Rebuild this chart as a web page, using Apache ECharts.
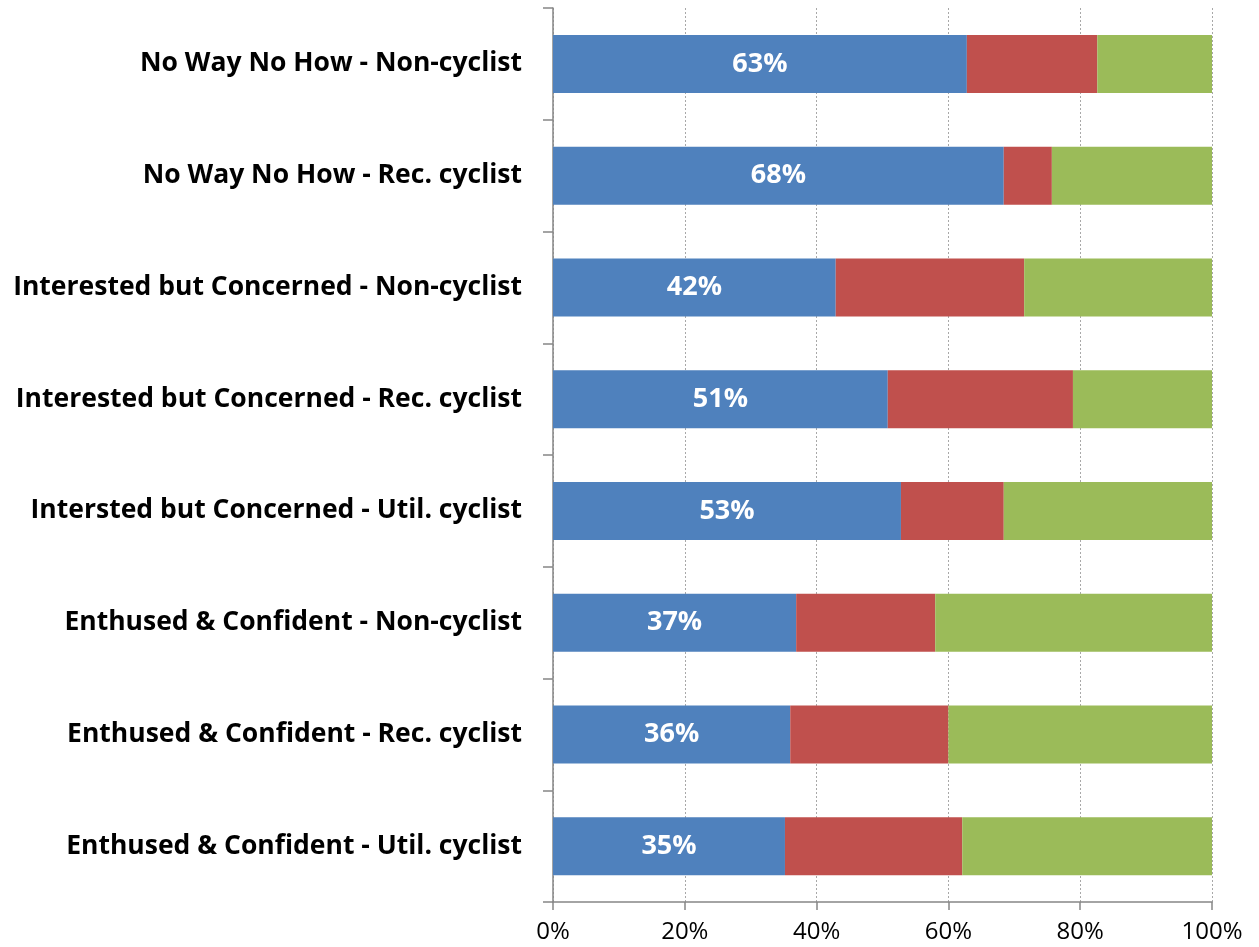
<!DOCTYPE html>
<html>
<head>
<meta charset="utf-8">
<script src="https://cdn.jsdelivr.net/npm/echarts@6/dist/echarts.min.js"></script>
<style>
html,body{margin:0;padding:0;background:#fff;}
#chart{width:1259px;height:947px;}
</style>
</head>
<body>
<div id="chart"></div>
<script>
const categories = [
  "No Way No How - Non-cyclist",
  "No Way No How - Rec. cyclist",
  "Interested but Concerned - Non-cyclist",
  "Interested but Concerned - Rec. cyclist",
  "Intersted but Concerned - Util. cyclist",
  "Enthused & Confident - Non-cyclist",
  "Enthused & Confident - Rec. cyclist",
  "Enthused & Confident - Util. cyclist"
];
const blueValues  = [62.8, 68.4, 42.9, 50.8, 52.8, 36.9, 36.0, 35.2];
const redValues   = [19.8,  7.3, 28.6, 28.1, 15.6, 21.1, 24.0, 26.9];
const greenValues = [17.4, 24.3, 28.5, 21.1, 31.6, 42.0, 40.0, 37.9];
const blueLabels  = ["63%", "68%", "42%", "51%", "53%", "37%", "36%", "35%"];
const xTicks = [0, 20, 40, 60, 80, 100];

const chart = echarts.init(document.getElementById('chart'));
const FONT = '"Open Sans", "Liberation Sans", sans-serif';
chart.setOption({
  animation: false,
  grid: {left: 553, right: 47, top: 8, bottom: 45, containLabel: false},
  xAxis: {
    type: 'value', min: xTicks[0], max: xTicks[xTicks.length - 1], interval: 20,
    axisLine: {show: true, lineStyle: {color: '#868686', width: 1.5}},
    axisTick: {show: true, length: 8, lineStyle: {color: '#868686', width: 1.5}},
    axisLabel: {formatter: v => v + '%', color: '#000', fontSize: 24, fontFamily: FONT, margin: 18},
    splitLine: {show: true, lineStyle: {type: [2, 2], color: '#a8a8a8', width: 1}}
  },
  yAxis: {
    type: 'category', data: categories, inverse: true,
    axisLine: {show: true, lineStyle: {color: '#868686', width: 1.5}},
    axisTick: {show: true, length: 10, alignWithLabel: false, lineStyle: {color: '#868686', width: 1.5}},
    axisLabel: {color: '#000', fontSize: 26.5, fontWeight: 'bold', fontFamily: FONT, margin: 31},
    splitLine: {show: false}
  },
  series: [
    {type: 'bar', stack: 'a', data: blueValues, barWidth: 58, itemStyle: {color: '#4F81BD'},
     label: {show: true, position: 'inside', color: '#fff', fontSize: 27, fontWeight: 'bold', fontFamily: FONT,
             formatter: p => blueLabels[p.dataIndex]}},
    {type: 'bar', stack: 'a', data: redValues, barWidth: 58, itemStyle: {color: '#C0504D'}},
    {type: 'bar', stack: 'a', data: greenValues, barWidth: 58, itemStyle: {color: '#9BBB59'}}
  ]
});
</script>
</body>
</html>
